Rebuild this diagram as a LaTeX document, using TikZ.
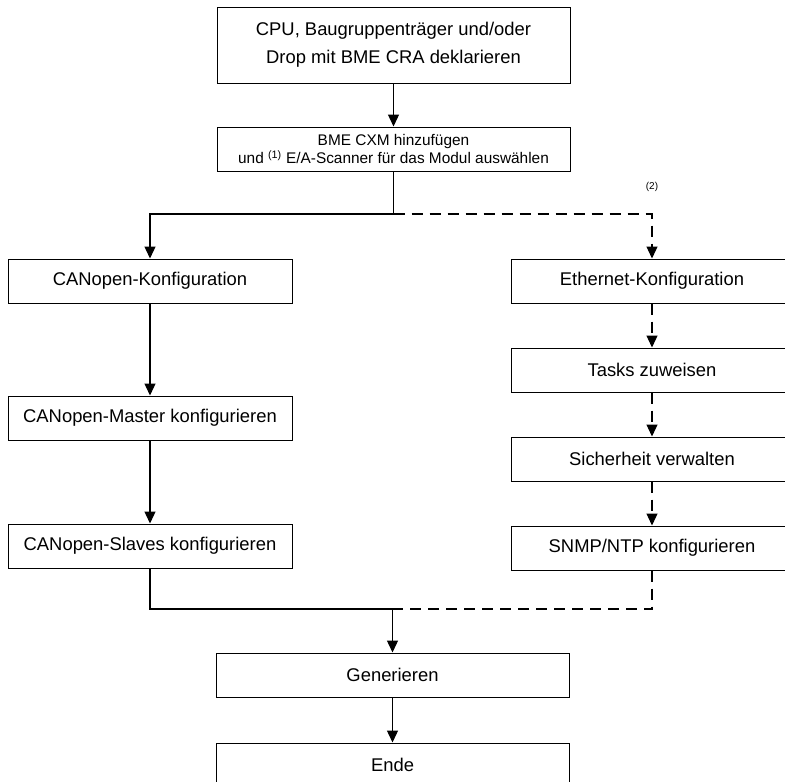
\documentclass[tikz,border=0pt]{standalone}
\usepackage{fontspec}
\setmainfont{Liberation Sans}
\usetikzlibrary{arrows.meta, positioning}

\begin{document}
\begin{tikzpicture}[
    x=1pt, y=-1pt,
    node distance=44pt,
    stepbox/.style={rectangle, draw, line width=1pt, minimum width=284pt, minimum height=44pt, align=center, inner sep=0pt, font=\fontsize{18.4}{28}\selectfont},
    widebox/.style={stepbox, minimum width=353pt},
    arrow/.style={line width=1.3pt, -{Triangle[length=12pt,width=11pt]}},
    plain/.style={line width=1.3pt},
    dasharrow/.style={arrow, dash pattern=on 11pt off 7pt},
    dashline/.style={plain, dash pattern=on 11pt off 7pt}
]
\useasboundingbox (0,0) rectangle (785,782);

% Nodes
\node[widebox, minimum height=76pt] (cpu) at (393.5,45) {CPU, Baugruppenträger und/oder\\Drop mit BME CRA deklarieren};
\node[widebox, below=43pt of cpu, font=\fontsize{15.4}{18}\selectfont] (scanner) {BME CXM hinzufügen\\und \textsuperscript{(1)} E/A-Scanner für das Modul auswählen};

\node[stepbox] (canKonf) at (150,281) {CANopen-Konfiguration};
\node[stepbox, below=92pt of canKonf] (canMaster) {CANopen-Master konfigurieren};
\node[stepbox, below=83pt of canMaster] (canSlaves) {CANopen-Slaves konfigurieren};

\node[stepbox, minimum width=282pt] (eth) at (652,281) {Ethernet-Konfiguration};
\node[stepbox, minimum width=282pt, below=of eth] (tasks) {Tasks zuweisen};
\node[stepbox, minimum width=282pt, below=of tasks] (sicher) {Sicherheit verwalten};
\node[stepbox, minimum width=282pt, below=of sicher] (snmp) {SNMP/NTP konfigurieren};

\node[widebox] (gen) at (392.5,675) {Generieren};
\node[widebox, below=45pt of gen] (ende) {Ende};

\node[font=\fontsize{10}{11}\selectfont] (note) at (652,187) {(2)};

\coordinate (split) at (393.5,214);
\coordinate (merge) at (392.5,609);

% Arrows
\draw[arrow] (cpu) -- (scanner);
\draw[plain] (scanner.south) -- (split);
\draw[arrow] (split) -| (canKonf.north);
\draw[dasharrow] (split) -| (eth.north);

\draw[arrow] (canKonf) -- (canMaster);
\draw[arrow] (canMaster) -- (canSlaves);

\draw[dasharrow] (eth) -- (tasks);
\draw[dasharrow] (tasks) -- (sicher);
\draw[dasharrow] (sicher) -- (snmp);

\draw[plain] (canSlaves.south) |- (merge);
\draw[dashline] (snmp.south) |- (merge);
\draw[arrow] (merge) -- (gen.north);
\draw[arrow] (gen) -- (ende);

\end{tikzpicture}
\end{document}
